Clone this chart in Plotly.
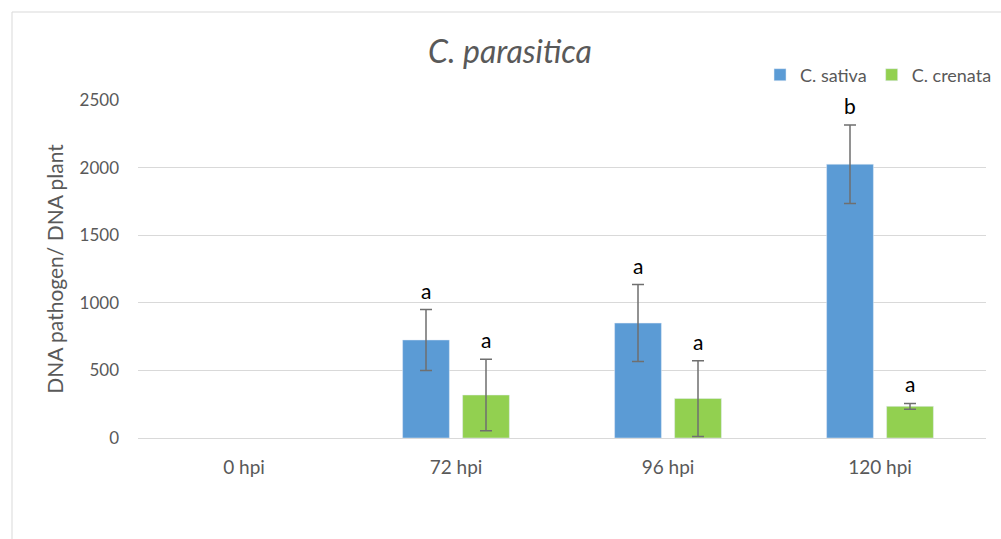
import plotly.graph_objects as go

categories = ["0 hpi", "72 hpi", "96 hpi", "120 hpi"]
sativa = [None, 725, 850, 2025]
sativa_err = [None, 225, 285, 290]
crenata = [None, 318, 292, 234]
crenata_err = [None, 265, 280, 22]
letters_sativa = ["", "a", "a", "b"]
letters_crenata = ["", "a", "a", "a"]
y_ticks = [0, 500, 1000, 1500, 2000, 2500]

W, H = 1001, 539
ML, MR, MT, MB = 138, 15, 100, 101
GRAY = "#595959"
FONT = "Lato, Carlito, Calibri, sans-serif"

fig = go.Figure()
fig.add_trace(go.Bar(
    x=categories, y=sativa, name="C. sativa", marker_color="#5B9BD5",
    error_y=dict(type="data", array=sativa_err, color="#6f6f6f", thickness=1.5, width=6),
))
fig.add_trace(go.Bar(
    x=categories, y=crenata, name="C. crenata", marker_color="#92D050",
    error_y=dict(type="data", array=crenata_err, color="#6f6f6f", thickness=1.5, width=6),
))

annotations = []
for i, c in enumerate(categories):
    for vals, errs, letters, shift in ((sativa, sativa_err, letters_sativa, -30),
                                       (crenata, crenata_err, letters_crenata, 30)):
        if letters[i]:
            annotations.append(dict(
                x=c, y=vals[i] + (errs[i] or 0), xref="x", yref="y",
                text=letters[i], showarrow=False, xshift=shift, yshift=5,
                yanchor="bottom", font=dict(size=21, color="#000000", family=FONT)))

pw = W - ML - MR
ph = H - MT - MB
fig.add_shape(type="rect", xref="paper", yref="paper",
              x0=(12 - ML) / pw, x1=(W + 20 - ML) / pw,
              y0=-(H + 20 - MT - ph) / ph, y1=(H - 12 - MB) / ph,
              line=dict(color="#d9d9d9", width=1), fillcolor="rgba(0,0,0,0)", layer="below")

fig.update_layout(
    width=W, height=H,
    margin=dict(l=ML, r=MR, t=MT, b=MB, autoexpand=False),
    paper_bgcolor="white", plot_bgcolor="white",
    barmode="group", bargap=0.434, bargroupgap=0.22,
    title=dict(text="<i>C. parasitica</i>", x=510 / W, xanchor="center",
               y=1 - 52 / H, yanchor="middle",
               font=dict(size=32, color=GRAY, family=FONT)),
    legend=dict(orientation="h", x=1.013, xanchor="right", y=1 + 25 / ph, yanchor="middle",
                font=dict(size=18, color=GRAY, family=FONT), itemwidth=30,
                bgcolor="rgba(0,0,0,0)", traceorder="normal"),
    font=dict(family=FONT, color=GRAY),
    annotations=annotations,
    showlegend=True,
)
fig.update_yaxes(range=[0, 2500], tickvals=y_ticks, showgrid=True, gridcolor="#d9d9d9",
                 gridwidth=1, zeroline=False, showline=False, ticks="",
                 ticklabelstandoff=18,
                 tickfont=dict(size=17, color=GRAY, family=FONT),
                 title=dict(text="DNA pathogen/ DNA plant",
                            font=dict(size=21, color=GRAY, family=FONT), standoff=10))
fig.update_xaxes(showline=True, linecolor="#d9d9d9", linewidth=1, ticks="",
                 ticklabelstandoff=12,
                 tickfont=dict(size=19, color=GRAY, family=FONT))

fig.write_html("out.html", config={"displayModeBar": False},
               post_script="document.body.style.margin='0';")
